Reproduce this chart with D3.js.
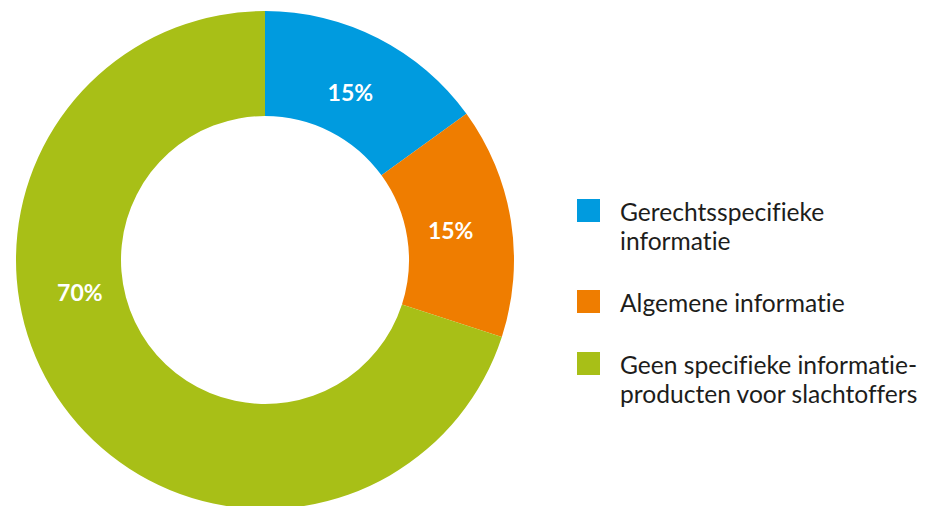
<!DOCTYPE html>
<html>
<head>
<meta charset="utf-8">
<script src="https://cdn.jsdelivr.net/npm/d3@7"></script>
<style>
  html, body { margin: 0; padding: 0; background: #ffffff; }
  svg { display: block; }
  text { font-variant-ligatures: none; font-feature-settings: "liga" 0, "dlig" 0; }
</style>
</head>
<body>
<main></main>
<script>
// chart data
const categories = ["Gerechtsspecifieke informatie", "Algemene informatie", "Geen specifieke informatie- producten voor slachtoffers"];
const legendLines = [
    ["Gerechtsspecifieke", "informatie"],
    ["Algemene informatie"],
    ["Geen specifieke informatie-", "producten voor slachtoffers"]
];
const values = [15, 15, 70];
const colours = ["#009bdf", "#ef7d00", "#a8bf17"];

window.addEventListener("DOMContentLoaded", event => {

    let width = 934, height = 506;

    d3.select("main").append("svg").attr("width", width).attr("height", height);
    let svg = d3.select("svg");

    let cx = 265, cy = 260;
    let outerR = 249, innerR = 144;

    let pie = d3.pie().sort(null).value(d => d);
    let arcs = pie(values);

    let arc = d3.arc().innerRadius(innerR).outerRadius(outerR);

    let donut = svg.append("g").attr("transform", `translate(${cx},${cy})`);

    donut.selectAll("path")
        .data(arcs)
        .enter()
        .append("path")
        .attr("d", arc)
        .attr("fill", (d, i) => colours[i]);

    // labels sit a bit inside the middle of the ring; the big slice label is pulled up to the left
    let labelR = 188;
    function labelPos(d) {
        let a = (d.startAngle + d.endAngle) / 2;
        if (d.endAngle - d.startAngle > Math.PI) a = 260 * Math.PI / 180;
        return [Math.sin(a) * labelR, -Math.cos(a) * labelR];
    }

    donut.selectAll("text")
        .data(arcs)
        .enter()
        .append("text")
        .attr("x", d => labelPos(d)[0])
        .attr("y", d => labelPos(d)[1])
        .attr("dy", "0.36em")
        .attr("text-anchor", "middle")
        .attr("fill", "white")
        .attr("font-family", "Lato, 'Open Sans', sans-serif")
        .attr("font-weight", "bold")
        .attr("font-size", "23px")
        .text(d => d.data + "%");

    // legend
    let legend = svg.append("g").attr("id", "legend");
    let lineH = 29, itemGap = 62;
    let y = 221;

    legendLines.forEach((lines, i) => {
        let item = legend.append("g");
        item.append("rect")
            .attr("x", 577)
            .attr("y", y - 22)
            .attr("width", 23)
            .attr("height", 23)
            .attr("fill", colours[i]);
        lines.forEach((line, j) => {
            item.append("text")
                .attr("x", 620)
                .attr("y", y + j * lineH)
                .attr("fill", "#1d1d1b")
                .attr("font-family", "Lato, 'Open Sans', sans-serif")
                .attr("font-size", "24.6px")
                .text(line);
        });
        y += (lines.length - 1) * lineH + itemGap;
    });

});
</script>
</body>
</html>
